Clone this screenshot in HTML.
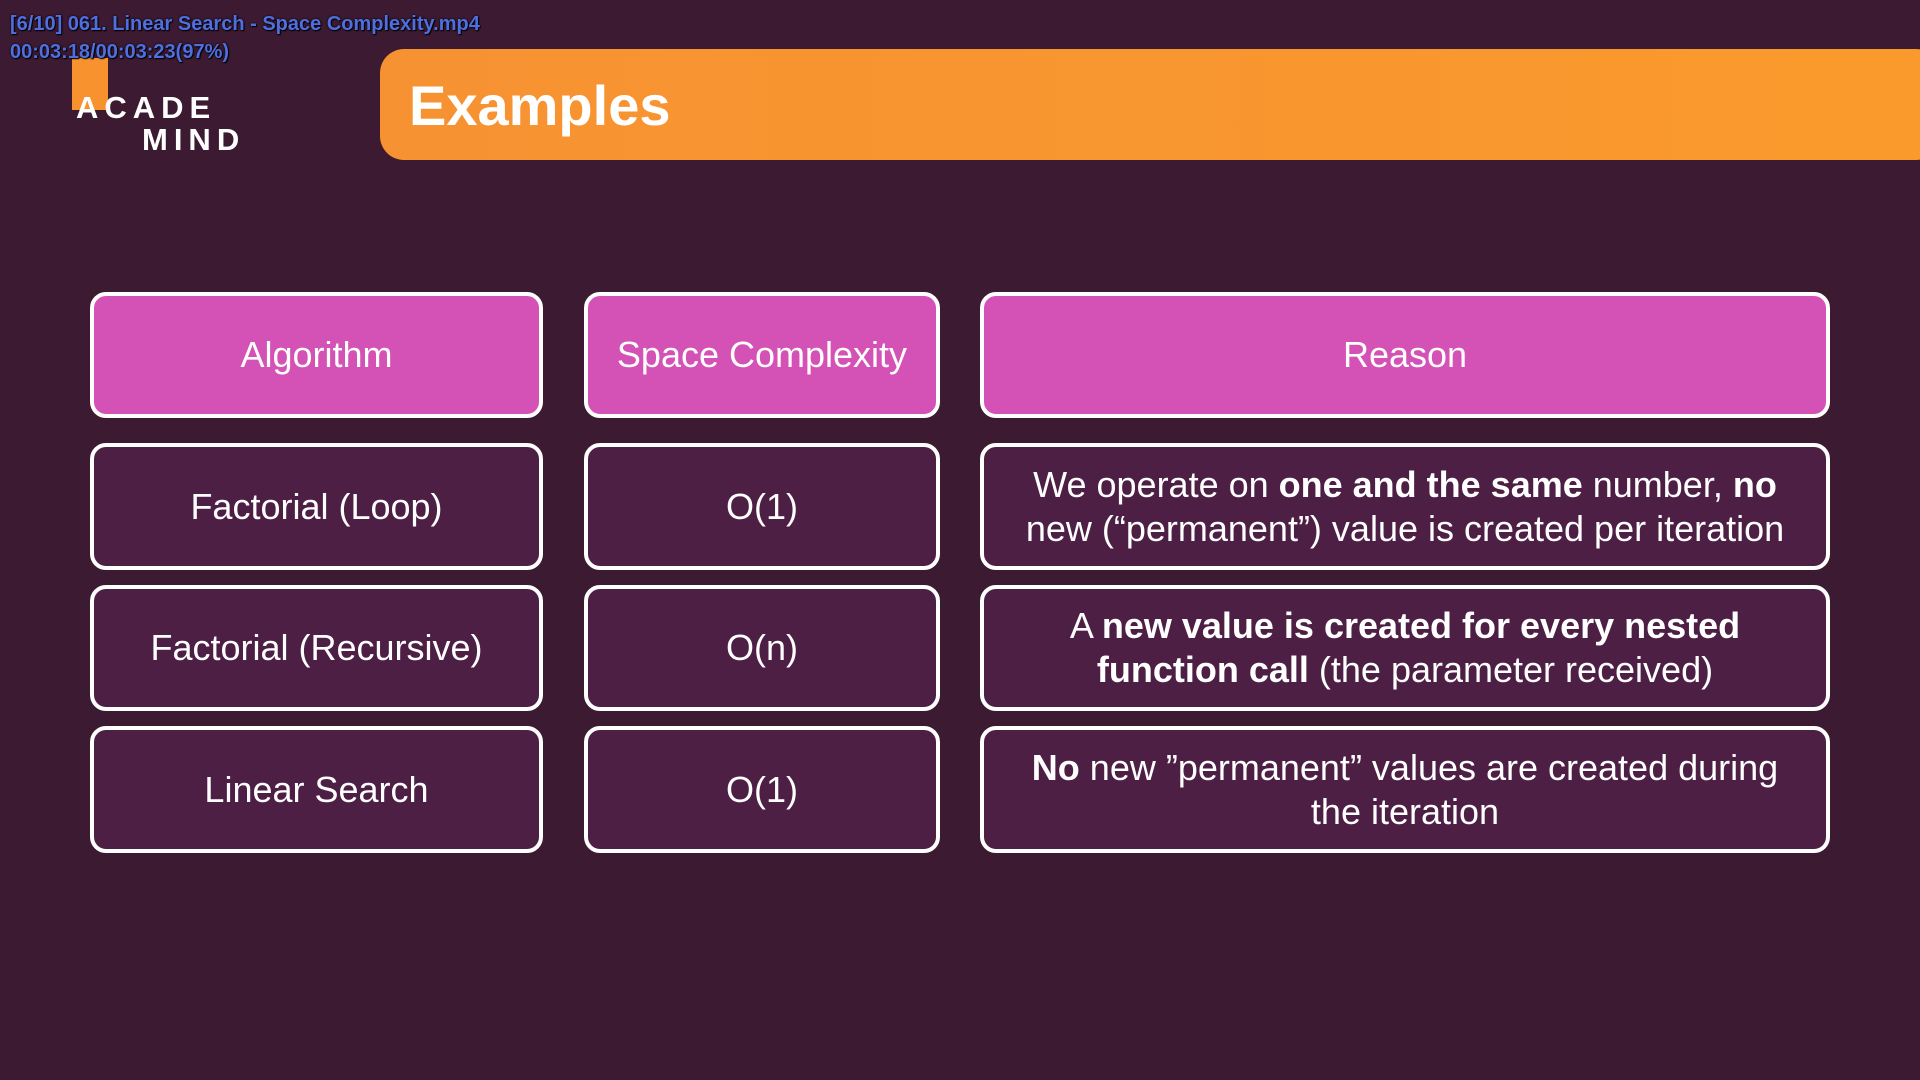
<!DOCTYPE html>
<html><head><meta charset="utf-8"><style>
html,body{margin:0;padding:0;}
body{width:1920px;height:1080px;background:#3c1a31;position:relative;overflow:hidden;font-family:"Liberation Sans","DejaVu Sans",sans-serif;}
.ov{position:absolute;left:10px;font:bold 20px "Liberation Sans",sans-serif;color:#4e6fe0;text-shadow:0 0 2px #000,1px 1px 1px #000;z-index:5;}
.hdr{position:absolute;left:380px;top:49px;width:1560px;height:111px;border-radius:24px;background:linear-gradient(90deg,#f79232,#fa9a2c);}
.hdr span{position:absolute;left:29px;top:24px;font-weight:bold;font-size:56px;color:#fff;}
.bar{position:absolute;left:72px;top:58px;width:36px;height:52px;background:#f7922f;}
.logo{position:absolute;color:#fff;font-weight:bold;letter-spacing:6px;font-size:31px;}
.c{position:absolute;box-sizing:border-box;border:4px solid #fff;border-radius:16px;background:#4e1f45;color:#fff;display:flex;align-items:center;justify-content:center;text-align:center;font-size:36px;line-height:44px;}
.h{background:#d452b6;}
</style></head><body>
<div class="ov" style="top:13px">[6/10] 061. Linear Search - Space Complexity.mp4</div>
<div class="ov" style="top:41px">00:03:18/00:03:23(97%)</div>
<div class="bar"></div>
<div class="logo" style="left:76px;top:90px">ACADE</div>
<div class="logo" style="left:142px;top:122px">MIND</div>
<div class="hdr"><span>Examples</span></div>

<div class="c h" style="left:90px;top:292px;width:453px;height:126px">Algorithm</div>
<div class="c h" style="left:584px;top:292px;width:356px;height:126px">Space Complexity</div>
<div class="c h" style="left:980px;top:292px;width:850px;height:126px">Reason</div>

<div class="c" style="left:90px;top:443px;width:453px;height:127px">Factorial (Loop)</div>
<div class="c" style="left:584px;top:443px;width:356px;height:127px">O(1)</div>
<div class="c" style="left:980px;top:443px;width:850px;height:127px"><div>We operate on <b>one and the same</b> number, <b>no</b><br>new (“permanent”) value is created per iteration</div></div>

<div class="c" style="left:90px;top:585px;width:453px;height:126px">Factorial (Recursive)</div>
<div class="c" style="left:584px;top:585px;width:356px;height:126px">O(n)</div>
<div class="c" style="left:980px;top:585px;width:850px;height:126px"><div>A <b>new value is created for every nested</b><br><b>function call</b> (the parameter received)</div></div>

<div class="c" style="left:90px;top:726px;width:453px;height:127px">Linear Search</div>
<div class="c" style="left:584px;top:726px;width:356px;height:127px">O(1)</div>
<div class="c" style="left:980px;top:726px;width:850px;height:127px"><div><b>No</b> new ”permanent” values are created during<br>the iteration</div></div>
</body></html>
